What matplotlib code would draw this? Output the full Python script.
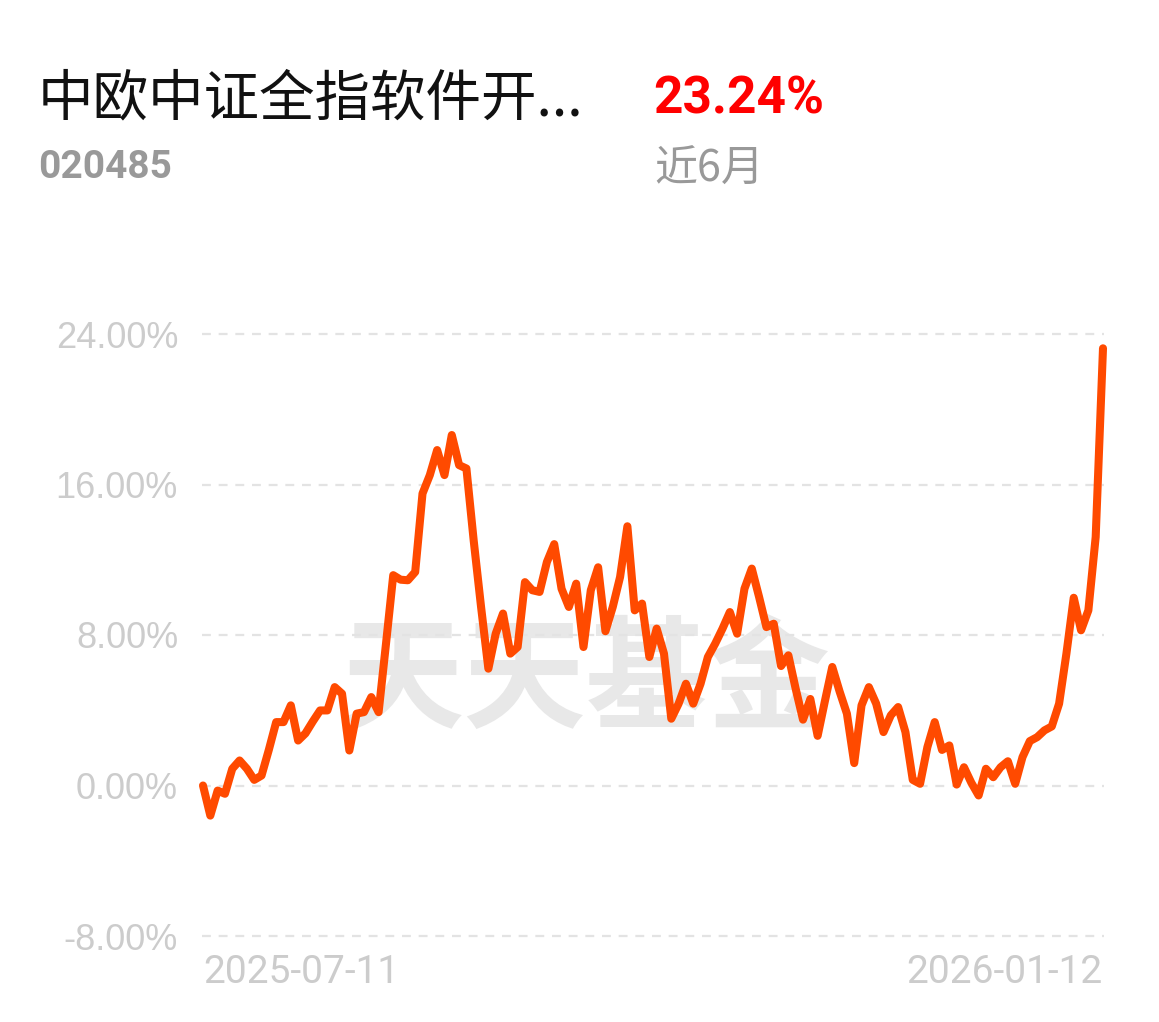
import matplotlib
matplotlib.use("Agg")
from matplotlib import pyplot as plt
import numpy as np

# 近6月 累计收益率 (%)
returns = [0.00, -1.60, -0.27, -0.44, 0.89, 1.33, 0.89, 0.30, 0.53, 1.90,
           3.37, 3.37, 4.26, 2.39, 2.77, 3.40, 3.99, 3.99, 5.23, 4.88,
           1.86, 3.82, 3.90, 4.70, 3.90, 7.50, 11.18, 10.94, 10.91, 11.35,
           15.52, 16.50, 17.83, 16.50, 18.63, 17.03, 16.85, 13.00, 9.50, 6.21,
           8.07, 9.14, 7.01, 7.36, 10.81, 10.38, 10.29, 11.88, 12.83, 10.46,
           9.49, 10.73, 7.36, 10.38, 11.60, 8.20, 9.49, 11.08, 13.78, 9.31,
           9.67, 6.83, 8.34, 7.01, 3.55, 4.35, 5.41, 4.35, 5.41, 6.83,
           7.54, 8.34, 9.22, 8.07, 10.46, 11.53, 10.02, 8.42, 8.60, 6.35,
           6.92, 5.14, 3.50, 4.60, 2.64, 4.50, 6.30, 5.00, 3.82, 1.19,
           4.26, 5.23, 4.35, 2.84, 3.73, 4.17, 2.84, 0.30, 0.09, 2.04,
           3.37, 1.89, 2.13, 0.05, 0.97, 0.15, -0.53, 0.89, 0.44, 0.97,
           1.29, 0.09, 1.51, 2.36, 2.57, 2.93, 3.14, 4.35, 7.01, 9.98,
           8.25, 9.31, 13.21, 23.24]
y_ticks = [-8, 0, 8, 16, 24]
y_labels = ["-8.00%", "0.00%", "8.00%", "16.00%", "24.00%"]
date_labels = ["2025-07-11", "2026-01-12"]

fund_name = "中欧中证全指软件开..."
fund_code = "020485"
period_return = "23.24%"
period_name = "近6月"

W, H = 1159, 1022
fig = plt.figure(figsize=(W / 100, H / 100), dpi=100)
fig.patch.set_facecolor("white")

cjk = ["Noto Sans CJK SC", "DejaVu Sans"]

# header
fig.text(38 / W, 1 - 100 / H, fund_name, family=cjk, fontsize=40, color="#111111", va="center")
fig.text(38 / W, 1 - 168 / H, fund_code, family="Roboto", fontweight="bold",
         fontsize=28, color="#999999", va="center")
fig.text(653 / W, 1 - 99 / H, period_return, family="Roboto", fontweight="bold",
         fontsize=37, color="#ff0000", va="center")
fig.text(654 / W, 1 - 170 / H, period_name, family=cjk, fontsize=31, color="#999999", va="center")

ax = fig.add_axes([203 / W, 1 - 936 / H, 900 / W, (936 - 334) / H])
ax.set_facecolor("none")
x = np.arange(len(returns))
ax.plot(x, returns, color="#ff4a00", lw=5.8, solid_joinstyle="round",
        solid_capstyle="round", clip_on=False, zorder=3)

ax.set_xlim(0, len(returns) - 1)
ax.set_ylim(-8, 24)
ax.set_yticks(y_ticks)
ax.set_yticklabels(y_labels)
for yv in y_ticks:
    ax.plot([-0.1, len(returns) - 0.8], [yv, yv], color="#e3e3e3", lw=1.6,
            ls=(0, (4, 3.5)), clip_on=False, zorder=1)

ax.set_xticks([0, len(returns) - 1])
ax.set_xticklabels(date_labels)
xl = ax.get_xticklabels()
xl[0].set_ha("left")
xl[1].set_ha("right")

ax.tick_params(axis="both", length=0, labelcolor="#cccccc")
ax.tick_params(axis="y", pad=18, labelsize=26)
ax.tick_params(axis="x", pad=13, labelsize=28)
for lab in ax.get_yticklabels():
    lab.set_family("Liberation Sans")
for lab in ax.get_xticklabels():
    lab.set_family("Roboto")
for s in ax.spines.values():
    s.set_visible(False)

# watermark
ax.text(0.425, 0.42, "天天基金", transform=ax.transAxes, family=cjk, fontweight="bold",
        fontsize=88, color="#e8e8e8", ha="center", va="center", zorder=0)

fig.savefig("out.png", dpi=100, facecolor="white")
